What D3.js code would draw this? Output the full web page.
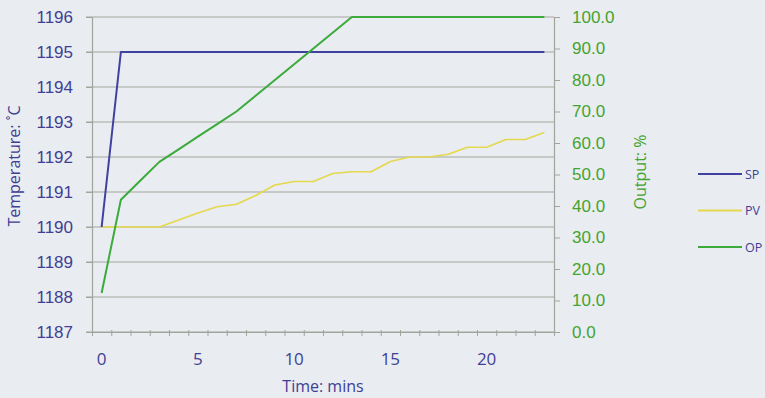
<!DOCTYPE html>
<html>
<head>
<meta charset="utf-8">
<script src="https://cdn.jsdelivr.net/npm/d3@7"></script>
<style>
  html, body { margin: 0; padding: 0; background: #e9ecf1; overflow: hidden; }
  svg { display: block; font-family: "Open Sans", sans-serif; }
</style>
</head>
<body>
<div id="chart"></div>
<script>
// minutes 0..23, one reading per minute
const minutes = d3.range(0, 24);
const spValues = [1190, 1195, 1195, 1195, 1195, 1195, 1195, 1195, 1195, 1195, 1195, 1195,
  1195, 1195, 1195, 1195, 1195, 1195, 1195, 1195, 1195, 1195, 1195, 1195];
const pvValues = [1190, 1190, 1190, 1190, 1190.2, 1190.4, 1190.58, 1190.65, 1190.9, 1191.2, 1191.3, 1191.3,
  1191.53, 1191.58, 1191.58, 1191.87, 1192.0, 1192.0, 1192.08, 1192.28, 1192.28, 1192.5, 1192.5, 1192.7];
const opValues = [12.4, 42, 48, 54, 58, 62, 66, 70, 75, 80, 85, 90,
  95, 100, 100, 100, 100, 100, 100, 100, 100, 100, 100, 100];

const tempTicks = d3.range(1187, 1197);
const outputTicks = d3.range(0, 101, 10);
const timeLabels = [0, 5, 10, 15, 20];

const W = 765, H = 398;
const PLOT = { left: 92, right: 554, top: 17, bottom: 332 };

const BLUE_TEXT = '#3f3f94';
const GREEN_TEXT = '#45a32f';
const GRID = '#a3a59c';

const svg = d3.select('#chart').append('svg')
  .attr('width', W)
  .attr('height', H);

svg.append('rect').attr('width', W).attr('height', H).attr('fill', '#e9ecf1');

const x = d3.scaleLinear().domain([-0.5, 23.5]).range([PLOT.left, PLOT.right]);
const yTemp = d3.scaleLinear().domain([1187, 1196]).range([PLOT.bottom, PLOT.top]);
const yOut = d3.scaleLinear().domain([0, 100]).range([PLOT.bottom, PLOT.top]);

// horizontal gridlines (also act as left-axis ticks)
svg.append('g')
  .selectAll('line')
  .data(tempTicks)
  .join('line')
  .attr('x1', PLOT.left - 6)
  .attr('x2', PLOT.right)
  .attr('y1', d => yTemp(d))
  .attr('y2', d => yTemp(d))
  .attr('stroke', GRID)
  .attr('stroke-width', 1.2);

// left axis
const leftAxis = svg.append('g')
  .attr('transform', `translate(${PLOT.left},0)`)
  .call(d3.axisLeft(yTemp).tickValues(tempTicks).tickFormat(d3.format('d')).tickSize(6).tickPadding(13));
leftAxis.select('.domain').attr('stroke', GRID).attr('stroke-width', 1.2);
leftAxis.selectAll('.tick line').attr('stroke', GRID);
leftAxis.selectAll('text')
  .attr('fill', BLUE_TEXT)
  .style('font-size', '17px');

// right axis
const rightAxis = svg.append('g')
  .attr('transform', `translate(${PLOT.right},0)`)
  .call(d3.axisRight(yOut).tickValues(outputTicks).tickFormat(d3.format('.1f')).tickSize(6).tickPadding(12));
rightAxis.select('.domain').attr('stroke', GRID).attr('stroke-width', 1.2);
rightAxis.selectAll('.tick line').attr('stroke', GRID);
rightAxis.selectAll('text')
  .attr('fill', GREEN_TEXT)
  .style('font-size', '17px');

// bottom axis: ticks between categories, labels on categories
const bottomAxis = svg.append('g')
  .attr('transform', `translate(0,${PLOT.bottom})`)
  .call(d3.axisBottom(x).tickValues(d3.range(-0.5, 24, 1)).tickFormat('').tickSizeInner(4).tickSizeOuter(0));
bottomAxis.select('.domain').attr('stroke', GRID).attr('stroke-width', 1.2);
bottomAxis.selectAll('.tick line').attr('stroke', GRID).attr('y1', -2);

svg.append('g')
  .selectAll('text')
  .data(timeLabels)
  .join('text')
  .attr('x', d => x(d))
  .attr('y', 365)
  .attr('text-anchor', 'middle')
  .attr('fill', BLUE_TEXT)
  .style('font-size', '17px')
  .text(d => d);

// axis titles
svg.append('text')
  .attr('x', 323)
  .attr('y', 392)
  .attr('text-anchor', 'middle')
  .attr('fill', BLUE_TEXT)
  .style('font-size', '16px')
  .text('Time: mins');

svg.append('text')
  .attr('transform', 'translate(20,166) rotate(-90)')
  .attr('text-anchor', 'middle')
  .attr('fill', BLUE_TEXT)
  .style('font-size', '16px')
  .text('Temperature: ˚C');

svg.append('text')
  .attr('transform', 'translate(646,172) rotate(-90)')
  .attr('text-anchor', 'middle')
  .attr('fill', GREEN_TEXT)
  .style('font-size', '16px')
  .text('Output: %');

// series
const series = [
  { name: 'SP', values: spValues, y: yTemp, color: '#40409e', width: 2 },
  { name: 'PV', values: pvValues, y: yTemp, color: '#e5d84a', width: 1.6 },
  { name: 'OP', values: opValues, y: yOut, color: '#3bab3b', width: 2 }
];

const drawOrder = [series[1], series[0], series[2]];
drawOrder.forEach(s => {
  const line = d3.line()
    .x((d, i) => x(minutes[i]))
    .y(d => s.y(d));
  svg.append('path')
    .datum(s.values)
    .attr('fill', 'none')
    .attr('stroke', s.color)
    .attr('stroke-width', s.width)
    .attr('stroke-linejoin', 'round')
    .attr('d', line);
});

// legend at the right edge
const legend = svg.append('g')
  .selectAll('g')
  .data(series)
  .join('g')
  .attr('transform', (d, i) => `translate(698,${174 + i * 36.5})`);
legend.append('line')
  .attr('x1', 0).attr('x2', 44)
  .attr('stroke', d => d.color)
  .attr('stroke-width', 2);
legend.append('text')
  .attr('x', 47)
  .attr('y', 4.5)
  .attr('fill', BLUE_TEXT)
  .style('font-size', '12.5px')
  .text(d => d.name);
</script>
</body>
</html>
